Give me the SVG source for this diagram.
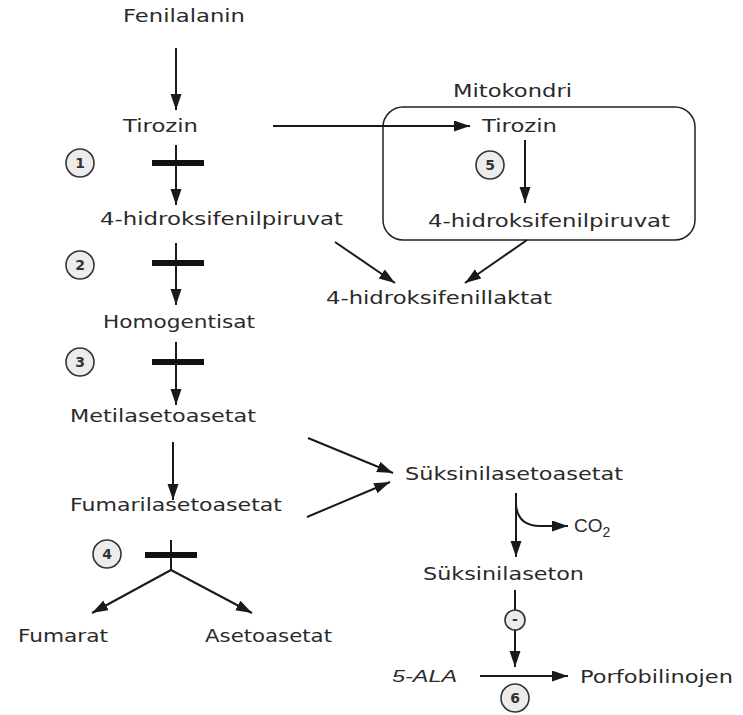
<svg xmlns="http://www.w3.org/2000/svg" width="743" height="715" viewBox="0 0 743 715">
<defs>
<marker id="ah" markerUnits="userSpaceOnUse" markerWidth="17" markerHeight="12" refX="16" refY="5.5" orient="auto">
<path d="M0,0 L16,5.5 L0,11 z" fill="#1a1a1a"/>
</marker>
</defs>
<style>
text{font-family:"DejaVu Sans","Verdana",sans-serif;font-size:17px;fill:#2a2a2a}
.c{fill:#ececec;stroke:#333;stroke-width:1.6}
.n{font-family:"DejaVu Sans",sans-serif;font-size:14px;font-weight:bold;text-anchor:middle;fill:#333}
.l{stroke:#1a1a1a;stroke-width:2;fill:none}
.a{stroke:#1a1a1a;stroke-width:2;fill:none;marker-end:url(#ah)}
.bar{fill:#111}
</style>
<rect width="743" height="715" fill="#ffffff"/>

<g id="mitokondri">
<rect x="383" y="107" width="312" height="133" rx="20" fill="none" stroke="#222" stroke-width="1.5"/>
<text x="453" y="97" textLength="119" lengthAdjust="spacingAndGlyphs">Mitokondri</text>
</g>

<g id="fenilalanin"><text x="123" y="22" textLength="122" lengthAdjust="spacingAndGlyphs">Fenilalanin</text></g>
<g id="tirozin"><text x="123" y="132" textLength="75" lengthAdjust="spacingAndGlyphs">Tirozin</text></g>
<g id="hpp"><text x="100" y="225" textLength="243" lengthAdjust="spacingAndGlyphs">4-hidroksifenilpiruvat</text></g>
<g id="homogentisat"><text x="103" y="328" textLength="152" lengthAdjust="spacingAndGlyphs">Homogentisat</text></g>
<g id="metilasetoasetat"><text x="70" y="422" textLength="186" lengthAdjust="spacingAndGlyphs">Metilasetoasetat</text></g>
<g id="fumarilasetoasetat"><text x="70" y="511" textLength="212" lengthAdjust="spacingAndGlyphs">Fumarilasetoasetat</text></g>
<g id="fumarat"><text x="18" y="642" textLength="90" lengthAdjust="spacingAndGlyphs">Fumarat</text></g>
<g id="asetoasetat"><text x="205" y="642" textLength="127" lengthAdjust="spacingAndGlyphs">Asetoasetat</text></g>
<g id="tirozin-m"><text x="482" y="132" textLength="75" lengthAdjust="spacingAndGlyphs">Tirozin</text></g>
<g id="hpp-m"><text x="428" y="227" textLength="242" lengthAdjust="spacingAndGlyphs">4-hidroksifenilpiruvat</text></g>
<g id="laktat"><text x="326" y="304" textLength="226" lengthAdjust="spacingAndGlyphs">4-hidroksifenillaktat</text></g>
<g id="suksinilasetoasetat"><text x="405" y="480" textLength="218" lengthAdjust="spacingAndGlyphs">Süksinilasetoasetat</text></g>
<g id="co2"><text x="574" y="532" style="font-family:'Liberation Sans',Arial,sans-serif;font-size:19px">CO<tspan dy="5" style="font-size:14px">2</tspan></text></g>
<g id="suksinilaseton"><text x="423" y="580" textLength="161" lengthAdjust="spacingAndGlyphs">Süksinilaseton</text></g>
<g id="ala"><text x="392" y="682" style="font-family:'Liberation Sans',Arial,sans-serif;font-style:italic;font-size:17px" textLength="65" lengthAdjust="spacingAndGlyphs">5-ALA</text></g>
<g id="porfobilinojen"><text x="580" y="683" textLength="153" lengthAdjust="spacingAndGlyphs">Porfobilinojen</text></g>

<g id="enzymes">
<circle class="c" cx="80" cy="163" r="14"/><text class="n" x="80" y="168">1</text>
<circle class="c" cx="80" cy="265" r="14"/><text class="n" x="80" y="270">2</text>
<circle class="c" cx="80" cy="362" r="14"/><text class="n" x="80" y="367">3</text>
<circle class="c" cx="107" cy="554" r="14"/><text class="n" x="107" y="559">4</text>
<circle class="c" cx="490" cy="165" r="14"/><text class="n" x="490" y="170">5</text>
<circle class="c" cx="515" cy="698" r="14"/><text class="n" x="515" y="703">6</text>
<circle class="c" cx="515" cy="620" r="10"/><text class="n" x="515" y="624">-</text>
</g>

<g id="connectors">
<line class="a" x1="176" y1="48" x2="176" y2="110"/>
<line class="a" x1="273" y1="126" x2="470" y2="126"/>
<line class="a" x1="176" y1="145" x2="176" y2="205"/>
<rect class="bar" x="152" y="160" width="52" height="6"/>
<line class="a" x1="176" y1="243" x2="176" y2="305"/>
<rect class="bar" x="152" y="260" width="52" height="6"/>
<line class="a" x1="176" y1="342" x2="176" y2="405"/>
<rect class="bar" x="152" y="359" width="52" height="6"/>
<line class="a" x1="173" y1="442" x2="173" y2="500"/>
<line class="l" x1="171" y1="540" x2="171" y2="570"/>
<rect class="bar" x="145" y="552" width="52" height="6"/>
<line class="a" x1="171" y1="570" x2="92" y2="613"/>
<line class="a" x1="171" y1="570" x2="252" y2="613"/>
<line class="a" x1="525" y1="140" x2="525" y2="203"/>
<line class="a" x1="335" y1="242" x2="395" y2="283"/>
<line class="a" x1="527" y1="240" x2="465" y2="283"/>
<line class="a" x1="308" y1="438" x2="393" y2="473"/>
<line class="a" x1="307" y1="517" x2="390" y2="482"/>
<line class="a" x1="516" y1="493" x2="516" y2="557"/>
<path class="a" d="M516,505 Q518,526 540,526 L568,526"/>
<line class="l" x1="515" y1="590" x2="515" y2="610"/>
<line class="a" x1="515" y1="630" x2="515" y2="667"/>
<line class="a" x1="480" y1="676" x2="568" y2="676"/>
</g>
</svg>
